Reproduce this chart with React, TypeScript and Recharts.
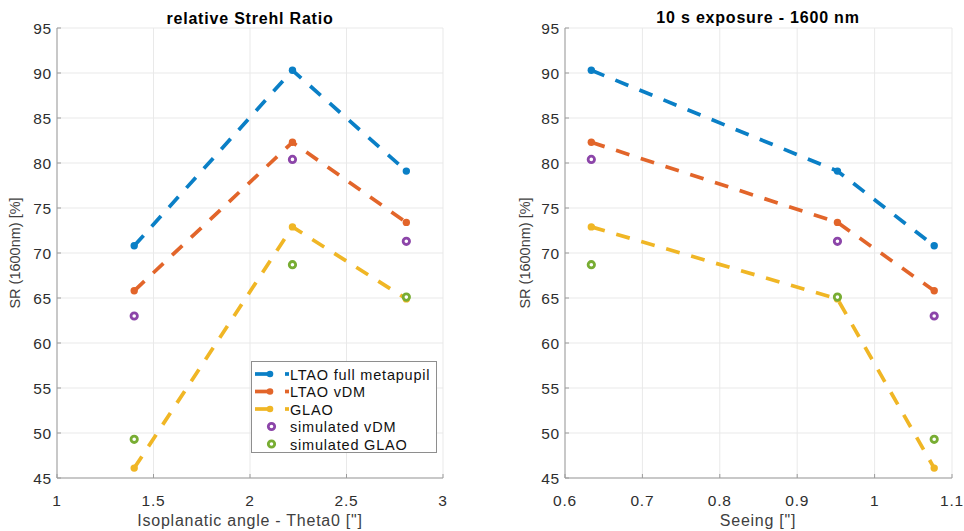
import React from 'react';
import { ScatterChart, Scatter, XAxis, YAxis, CartesianGrid } from 'recharts';

// x values of the three runs
const THETA0 = [1.4, 2.22, 2.81];
const SEEING = [1.077, 0.634, 0.952];

// Strehl ratio [%] at 1600 nm, same order as above
const LTAO_FULL = [70.8, 90.3, 79.1];
const LTAO_VDM = [65.8, 82.3, 73.4];
const GLAO = [46.1, 72.9, 64.9];
const SIM_VDM = [63.0, 80.4, 71.3];
const SIM_GLAO = [49.3, 68.7, 65.1];

const THETA_TICKS = [1, 1.5, 2, 2.5, 3];
const SEEING_TICKS = [0.6, 0.7, 0.8, 0.9, 1, 1.1];
const SR_TICKS = [45, 50, 55, 60, 65, 70, 75, 80, 85, 90, 95];

const SERIES = [
  { name: 'LTAO full metapupil', values: LTAO_FULL, color: '#0a7fc6', line: true },
  { name: 'LTAO vDM', values: LTAO_VDM, color: '#e2652a', line: true },
  { name: 'GLAO', values: GLAO, color: '#f0b625', line: true },
  { name: 'simulated vDM', values: SIM_VDM, color: '#8c45a9', line: false },
  { name: 'simulated GLAO', values: SIM_GLAO, color: '#78ad33', line: false },
];

const FONT = '"Liberation Sans", Arial, Helvetica, sans-serif';
const GRID = '#e9e9e9';
const AXIS = '#9c9c9c';
const DASH = '14 12';

const toPoints = (xs: number[], ys: number[]) =>
  xs.map((x, i) => ({ x, y: ys[i] })).sort((a, b) => a.x - b.x);

const dotShape = (color: string) => (p: any) => (
  <circle cx={p.cx} cy={p.cy} r={3.7} fill={color} />
);

const ringShape = (color: string) => (p: any) => (
  <circle cx={p.cx} cy={p.cy} r={3.2} fill="#fff" stroke={color} strokeWidth={2.8} />
);

function Panel({ xs, xTicks, width, marginRight }: { xs: number[]; xTicks: number[]; width: number; marginRight: number }) {
  const domain = [xTicks[0], xTicks[xTicks.length - 1]];
  return (
    <ScatterChart width={width} height={531} margin={{ top: 28, right: marginRight, bottom: 0, left: 0 }}>
      <CartesianGrid stroke={GRID} />
      <XAxis
        type="number"
        dataKey="x"
        domain={domain}
        ticks={xTicks}
        allowDataOverflow
        height={53}
        stroke={AXIS}
        tickSize={-4}
        tickMargin={21}
        tick={{ fill: '#2e2e2e', fontSize: 15.5 }}
      />
      <YAxis
        type="number"
        dataKey="y"
        domain={[45, 95]}
        ticks={SR_TICKS}
        allowDataOverflow
        width={57}
        stroke={AXIS}
        tickSize={-4}
        tickMargin={9}
        tick={{ fill: '#2e2e2e', fontSize: 15.5 }}
      />
      {SERIES.map((s) => (
        <Scatter
          key={s.name}
          name={s.name}
          data={toPoints(xs, s.values)}
          fill={s.color}
          line={s.line ? { stroke: s.color, strokeWidth: 3.7, strokeDasharray: DASH } : false}
          lineType="joint"
          shape={s.line ? dotShape(s.color) : ringShape(s.color)}
          isAnimationActive={false}
        />
      ))}
    </ScatterChart>
  );
}

export default function App() {
  return (
    <div style={{ position: 'absolute', left: 0, top: 0, width: 964, height: 531, background: '#fff', fontFamily: FONT, letterSpacing: '0.8px' }}>
      <div style={{ position: 'absolute', left: 0, top: 0 }}>
        <Panel xs={THETA0} xTicks={THETA_TICKS} width={480} marginRight={37} />
      </div>
      <div style={{ position: 'absolute', left: 508, top: 0 }}>
        <Panel xs={SEEING} xTicks={SEEING_TICKS} width={456} marginRight={12} />
      </div>

      {/* titles, axis labels and legend */}
      <svg width={964} height={531} style={{ position: 'absolute', left: 0, top: 0, pointerEvents: 'none' }}>
        <text x={250} y={24} textAnchor="middle" fontSize={16} fontWeight="bold" fill="#000" style={{ letterSpacing: '0.8px' }}>relative Strehl Ratio</text>
        <text x={758} y={23} textAnchor="middle" fontSize={16} fontWeight="bold" fill="#000" style={{ letterSpacing: '0.8px' }}>10 s exposure - 1600 nm</text>

        <text x={250} y={526} textAnchor="middle" fontSize={16} fill="#404040" style={{ letterSpacing: '0.75px' }}>Isoplanatic angle - Theta0 ["]</text>
        <text x={758} y={526} textAnchor="middle" fontSize={16} fill="#404040" style={{ letterSpacing: '0.75px' }}>Seeing ["]</text>

        <text x={20} y={253} textAnchor="middle" fontSize={14.5} fill="#404040" transform="rotate(-90 20 253)" style={{ letterSpacing: '0px' }}>SR (1600nm) [%]</text>
        <text x={530} y={253} textAnchor="middle" fontSize={14.5} fill="#404040" transform="rotate(-90 530 253)" style={{ letterSpacing: '0px' }}>SR (1600nm) [%]</text>

        <rect x={251.5} y={361.5} width={185} height={91} fill="#fff" stroke="#8e8e8e" />
        {SERIES.map((s, i) => {
          const cy = 374 + i * 17.5;
          return (
            <g key={s.name}>
              {s.line ? (
                <>
                  <line x1={255} y1={cy} x2={272} y2={cy} stroke={s.color} strokeWidth={3.7} />
                  <circle cx={270} cy={cy} r={3.3} fill={s.color} />
                  <line x1={285} y1={cy} x2={289} y2={cy} stroke={s.color} strokeWidth={3.7} />
                </>
              ) : (
                <circle cx={271.5} cy={cy} r={3.2} fill="#fff" stroke={s.color} strokeWidth={2.8} />
              )}
              <text x={290} y={cy + 5.5} fontSize={14.5} fill="#111" style={{ letterSpacing: '0.8px' }}>{s.name}</text>
            </g>
          );
        })}
      </svg>
    </div>
  );
}
